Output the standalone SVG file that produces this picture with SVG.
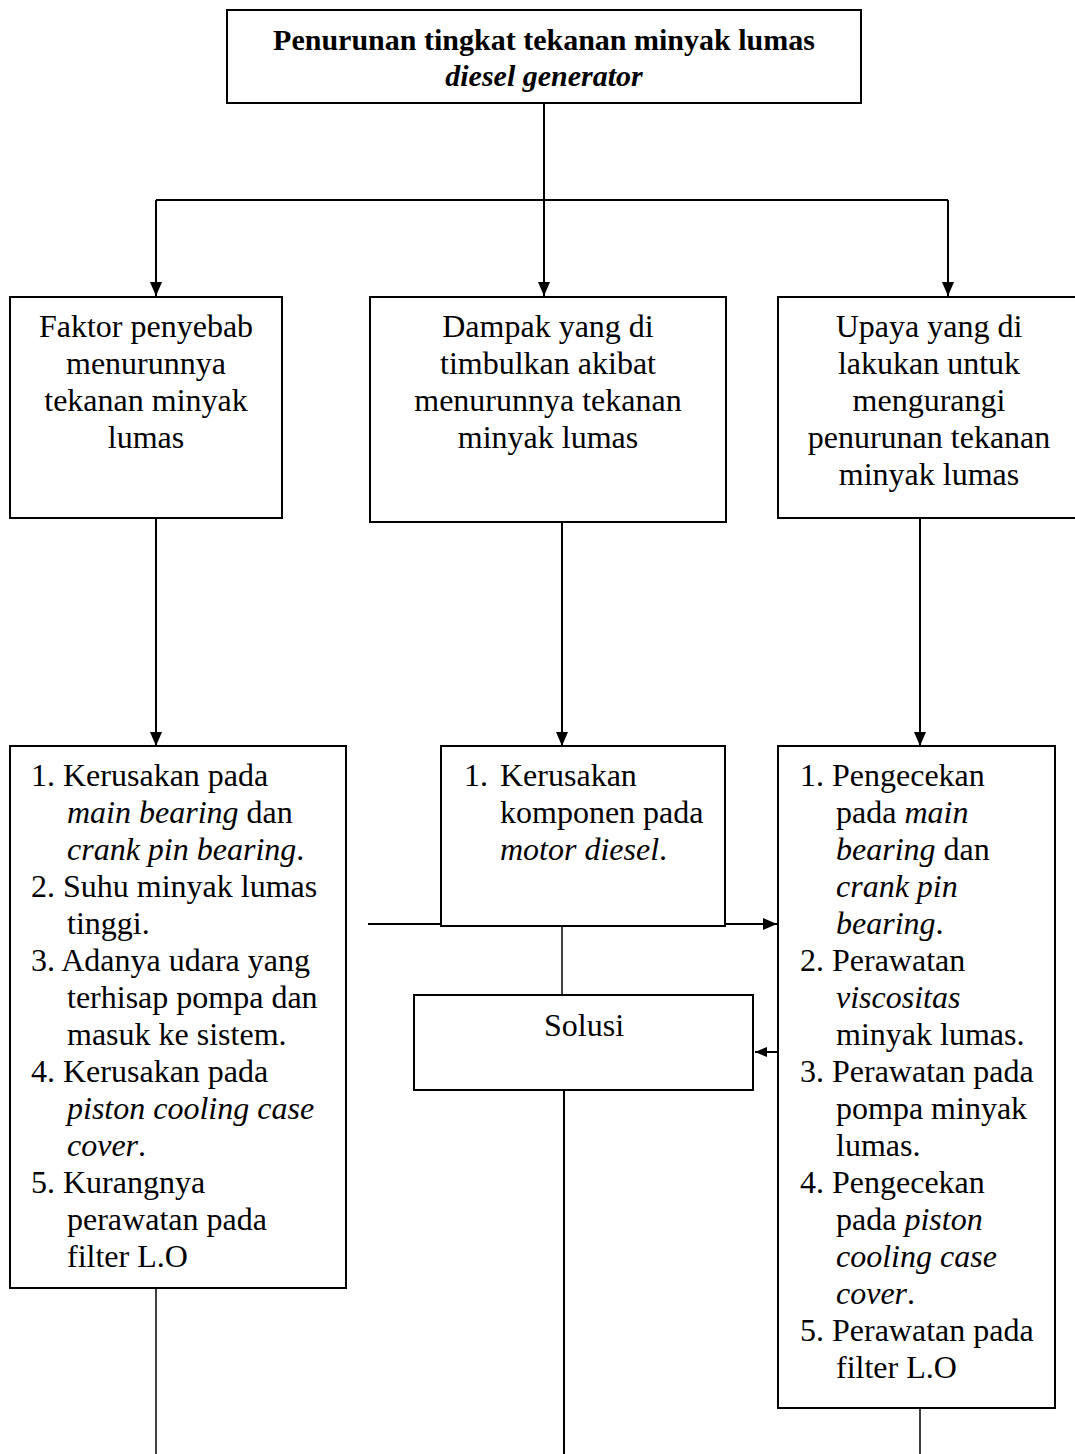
<svg xmlns="http://www.w3.org/2000/svg" width="1075" height="1454" viewBox="0 0 1075 1454">
<style>
.box{fill:#fff;stroke:#000;stroke-width:2}
.t{font-family:"Liberation Serif","Times New Roman",serif;font-size:32px;fill:#000}
.h{font-size:30px;font-weight:bold}
.c{text-anchor:middle}
.i{font-style:italic}
.ln{stroke:#000;stroke-width:2;fill:none}
.thin{stroke:#000;stroke-width:1.5;fill:none}
</style>
<defs>
<marker id="ah" markerWidth="12" markerHeight="10" refX="12" refY="5" orient="auto" markerUnits="userSpaceOnUse" viewBox="0 0 12 10">
<path d="M0,0 L12,5 L0,10 z" fill="#000"/>
</marker>
<marker id="ahs" markerWidth="14" markerHeight="12" refX="14" refY="6" orient="auto" markerUnits="userSpaceOnUse" viewBox="0 0 14 12">
<path d="M0,0 L14,6 L0,12 z" fill="#000"/>
</marker>
</defs>
<rect width="1075" height="1454" fill="#fff"/>

<g id="connectors">
<line class="ln" x1="544" y1="103" x2="544" y2="200"/>
<polyline class="ln" points="156,200 948,200"/>
<line class="ln" x1="156" y1="200" x2="156" y2="296" marker-end="url(#ahs)"/>
<line class="ln" x1="544" y1="200" x2="544" y2="296" marker-end="url(#ahs)"/>
<line class="ln" x1="948" y1="200" x2="948" y2="296" marker-end="url(#ahs)"/>
<line class="ln" x1="156" y1="518" x2="156" y2="746" marker-end="url(#ahs)"/>
<line class="ln" x1="562" y1="522" x2="562" y2="746" marker-end="url(#ahs)"/>
<line class="ln" x1="920" y1="518" x2="920" y2="746" marker-end="url(#ahs)"/>
<line class="ln" x1="368" y1="924" x2="777" y2="924" marker-end="url(#ahs)"/>
<line class="thin" x1="562" y1="926" x2="562" y2="995"/>
<line class="ln" x1="777" y1="1052" x2="755" y2="1052" marker-end="url(#ah)"/>
<line class="thin" x1="156" y1="1288" x2="156" y2="1454"/>
<line class="ln" x1="564" y1="1090" x2="564" y2="1454"/>
<line class="thin" x1="920" y1="1408" x2="920" y2="1454"/>
</g>

<g id="top">
<rect class="box" x="227" y="10" width="634" height="93"/>
<text class="t h c" x="544" y="50">Penurunan tingkat tekanan minyak lumas</text>
<text class="t h c i" x="544" y="86">diesel generator</text>
</g>

<g id="faktor">
<rect class="box" x="10" y="297" width="272" height="221"/>
<text class="t c" x="146" y="337">Faktor penyebab</text>
<text class="t c" x="146" y="374">menurunnya</text>
<text class="t c" x="146" y="411">tekanan minyak</text>
<text class="t c" x="146" y="448">lumas</text>
</g>

<g id="dampak">
<rect class="box" x="370" y="297" width="356" height="225"/>
<text class="t c" x="548" y="337">Dampak yang di</text>
<text class="t c" x="548" y="374">timbulkan akibat</text>
<text class="t c" x="548" y="411">menurunnya tekanan</text>
<text class="t c" x="548" y="448">minyak lumas</text>
</g>

<g id="upaya">
<rect class="box" x="778" y="297" width="310" height="221"/>
<text class="t c" x="929" y="337">Upaya yang di</text>
<text class="t c" x="929" y="374">lakukan untuk</text>
<text class="t c" x="929" y="411">mengurangi</text>
<text class="t c" x="929" y="448">penurunan tekanan</text>
<text class="t c" x="929" y="485">minyak lumas</text>
</g>

<g id="faktor-list">
<rect class="box" x="10" y="746" width="336" height="542"/>
<text class="t" x="31" y="786">1. Kerusakan pada</text>
<text class="t" x="67" y="823"><tspan class="i">main bearing</tspan> dan</text>
<text class="t" x="67" y="860"><tspan class="i">crank pin bearing</tspan>.</text>
<text class="t" x="31" y="897">2. Suhu minyak lumas</text>
<text class="t" x="67" y="934">tinggi.</text>
<text class="t" x="31" y="971">3. Adanya udara yang</text>
<text class="t" x="67" y="1008">terhisap pompa dan</text>
<text class="t" x="67" y="1045">masuk ke sistem.</text>
<text class="t" x="31" y="1082">4. Kerusakan pada</text>
<text class="t i" x="67" y="1119">piston cooling case</text>
<text class="t" x="67" y="1156"><tspan class="i">cover</tspan>.</text>
<text class="t" x="31" y="1193">5. Kurangnya</text>
<text class="t" x="67" y="1230">perawatan pada</text>
<text class="t" x="67" y="1267">filter L.O</text>
</g>

<g id="dampak-list">
<rect class="box" x="441" y="746" width="284" height="180"/>
<text class="t" x="464" y="786">1.</text>
<text class="t" x="500" y="786">Kerusakan</text>
<text class="t" x="500" y="823">komponen pada</text>
<text class="t" x="500" y="860"><tspan class="i">motor diesel</tspan>.</text>
</g>

<g id="solusi">
<rect class="box" x="414" y="995" width="339" height="95"/>
<text class="t c" x="584" y="1036">Solusi</text>
</g>

<g id="upaya-list">
<rect class="box" x="778" y="746" width="277" height="662"/>
<text class="t" x="800" y="786">1. Pengecekan</text>
<text class="t" x="836" y="823">pada <tspan class="i">main</tspan></text>
<text class="t" x="836" y="860"><tspan class="i">bearing</tspan> dan</text>
<text class="t i" x="836" y="897">crank pin</text>
<text class="t" x="836" y="934"><tspan class="i">bearing</tspan>.</text>
<text class="t" x="800" y="971">2. Perawatan</text>
<text class="t i" x="836" y="1008">viscositas</text>
<text class="t" x="836" y="1045">minyak lumas.</text>
<text class="t" x="800" y="1082">3. Perawatan pada</text>
<text class="t" x="836" y="1119">pompa minyak</text>
<text class="t" x="836" y="1156">lumas.</text>
<text class="t" x="800" y="1193">4. Pengecekan</text>
<text class="t" x="836" y="1230">pada <tspan class="i">piston</tspan></text>
<text class="t i" x="836" y="1267">cooling case</text>
<text class="t" x="836" y="1304"><tspan class="i">cover</tspan>.</text>
<text class="t" x="800" y="1341">5. Perawatan pada</text>
<text class="t" x="836" y="1378">filter L.O</text>
</g>
</svg>
